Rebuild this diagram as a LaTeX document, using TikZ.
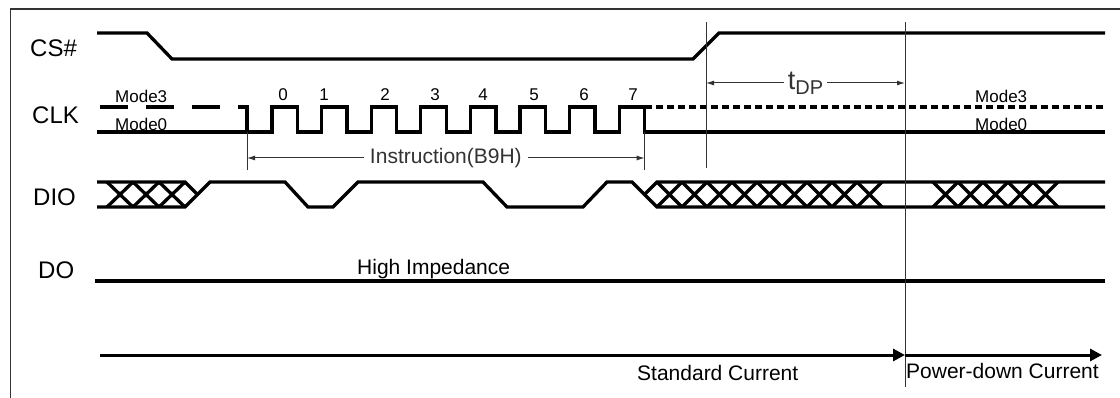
\documentclass[tikz,border=0pt]{standalone}
\usepackage{fontspec}
\setmainfont{Liberation Sans}
\usetikzlibrary{arrows.meta}

\begin{document}
\begin{tikzpicture}[x=1pt, y=-1pt,
		signal/.style = {line width = 3.3pt},
		guide/.style = {line width = 1pt, black!80},
		siglabel/.style = {anchor = base west, inner sep = 0pt, font = \fontsize{24}{24}\selectfont},
		smalllabel/.style = {anchor = base west, inner sep = 0pt, font = \fontsize{17}{17}\selectfont},
		textlabel/.style = {inner sep = 0pt, font = \fontsize{21}{21}\selectfont},
		dimarrow/.style = {guide, {Latex[length=8pt, width=5pt]}-{Latex[length=8pt, width=5pt]}},
		currarrow/.style = {line width = 3pt, -{Triangle[length=12pt, width=12pt]}}]
				\useasboundingbox (0,0) rectangle (1120,398);
				\draw[line width = 1.3pt, black!80] (10.5,398) -- (10.5,9) -- (1120,9);
				
				% signal names
				\node[siglabel] at (30,57) (cs_label) {CS\#};
				\node[siglabel] at (32,124) (clk_label) {CLK};
				\node[siglabel] at (33,206) (dio_label) {DIO};
				\node[siglabel] at (38,279) (do_label) {DO};
				
				% CS#
				\draw[signal] (97,33) -- (147,33) -- (172,59) -- (693,59) -- (719,33) -- (1105,33);
				
				% CLK
				\draw[signal, dash pattern = on 28pt off 18pt] (100,107) -- (238,107);
				\draw[signal] (238,107) -- (247,107) -- (247,132);
				\draw[signal] (97,132) foreach \k in {0,...,7} { -- ({272+49.6*\k},132) -- ({272+49.6*\k},107) -- ({297.5+49.6*\k},107) -- ({297.5+49.6*\k},132) } -- (1105,132);
				\draw[signal, dash pattern = on 7pt off 4pt] (645,107) -- (1105,107);
				\foreach \x/\d in {283/0, 324/1, 385/2, 435/3, 483/4, 534/5, 584/6, 633/7}
					\node[smalllabel, anchor = base] at (\x,101) (bit_\d) {\d};
				\node[smalllabel] at (115,103) (mode3_left) {Mode3};
				\node[smalllabel] at (115,131) (mode0_left) {Mode0};
				\node[smalllabel] at (975,103) (mode3_right) {Mode3};
				\node[smalllabel] at (975,131) (mode0_right) {Mode0};
				
				% DIO
				\draw[signal] (97,182) -- (185,182) -- (197.5,194.5);
				\draw[signal] (97,207) -- (185,207) -- (210,182) -- (285,182) -- (308,207) -- (333,207) -- (358,182) -- (483,182) -- (507,207) -- (583,207) -- (607,182) -- (632,182) -- (657,207) -- (1105,207);
				\draw[signal] (644.5,194.5) -- (657,182) -- (1105,182);
				\foreach \k in {0,1,2}
					\draw[signal] ({107+26*\k},182) -- ({133+26*\k},207) ({107+26*\k},207) -- ({133+26*\k},182);
				\foreach \k in {0,...,8}
					\draw[signal] ({657+25*\k},182) -- ({682+25*\k},207) ({657+25*\k},207) -- ({682+25*\k},182);
				\foreach \k in {0,...,4}
					\draw[signal] ({933+25*\k},182) -- ({958+25*\k},207) ({933+25*\k},207) -- ({958+25*\k},182);
				
				% DO
				\draw[signal] (95,281) -- (1105,281);
				\node[textlabel, anchor = base west] at (357,275) (hiz) {High Impedance};
				
				% timing marks
				\coordinate (instr_start) at (247,158);
				\coordinate (instr_end) at (644.7,158);
				\coordinate (dp_start) at (706,83);
				\coordinate (dp_end) at (905,83);
				\draw[guide] (247,132) -- (247,170);
				\draw[guide] (644.7,132) -- (644.7,170);
				\draw[guide] (706,22) -- (706,168);
				\draw[guide] (905,22) -- (905,387);
				\draw[dimarrow] (instr_start) -- node[textlabel, fill = white, inner xsep = 6pt] (instr) {Instruction(B9H)} (instr_end);
				\draw[dimarrow] (dp_start) -- node[fill = white, inner xsep = 4pt, inner ysep = 0pt] (tdp) {\fontsize{27}{27}\selectfont t\raisebox{-5pt}{\fontsize{20}{20}\selectfont DP}} (dp_end);
				
				% supply current
				\coordinate (curr_start) at (100,355);
				\coordinate (curr_mid) at (905,355);
				\coordinate (curr_end) at (1102,355);
				\draw[currarrow] (curr_start) -- (curr_mid);
				\draw[currarrow] (curr_mid) -- (curr_end);
				\node[textlabel, anchor = base west] at (637,380) (std_curr) {Standard Current};
				\node[textlabel, anchor = base west] at (906,378) (pd_curr) {Power-down Current};
			\end{tikzpicture}
\end{document}
